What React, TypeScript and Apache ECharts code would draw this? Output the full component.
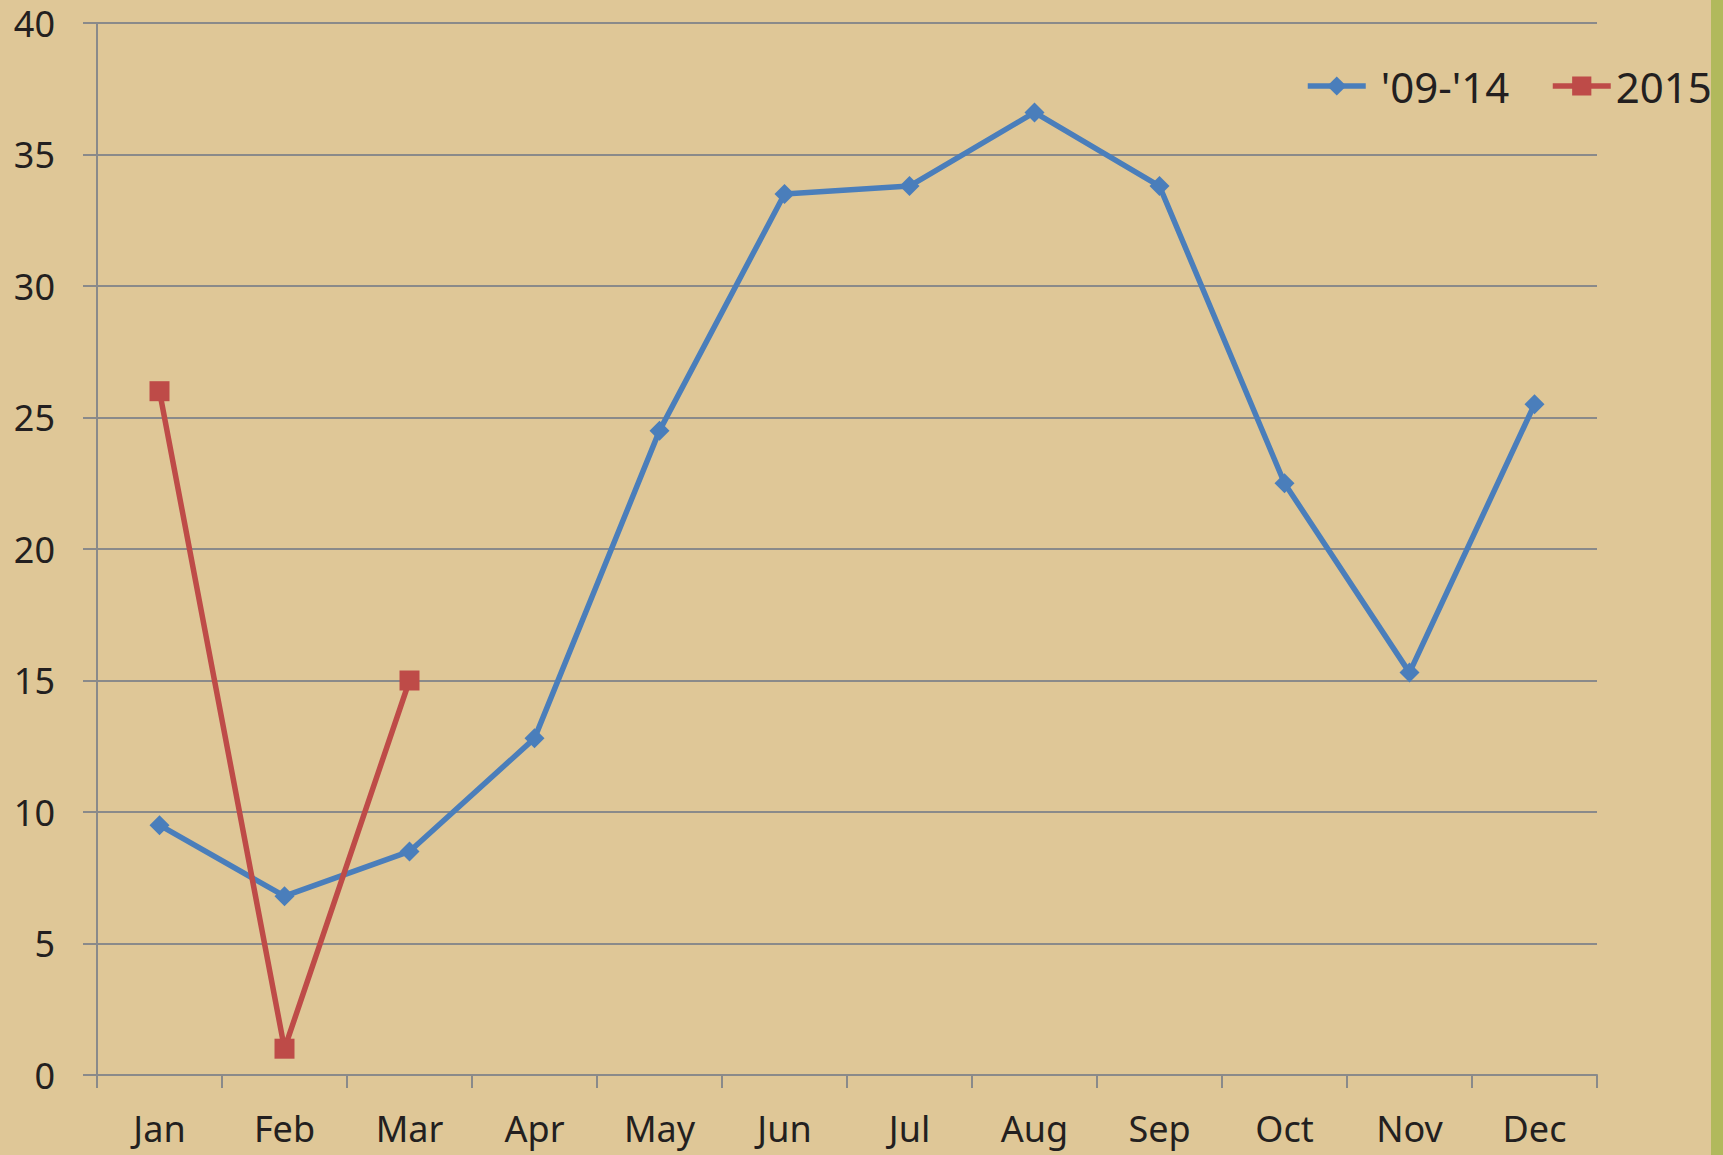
import React, { useEffect, useRef } from "react";
import * as echarts from "echarts";

const months = ["Jan", "Feb", "Mar", "Apr", "May", "Jun", "Jul", "Aug", "Sep", "Oct", "Nov", "Dec"];
const avg0914 = [9.5, 6.8, 8.5, 12.8, 24.5, 33.5, 33.8, 36.6, 33.8, 22.5, 15.3, 25.5];
const y2015 = [26, 1, 15, null, null, null, null, null, null, null, null, null];
const seriesNames = ["'09-'14", "2015"];

const FONT = "'Noto Sans', 'Open Sans', sans-serif";
const GRID = "#8a8a8a";
const TEXT = "#231f20";

export default function App() {
  const ref = useRef<HTMLDivElement>(null);
  useEffect(() => {
    document.body.style.margin = "0";
    const chart = echarts.init(ref.current!, null, { renderer: "svg" });
    const legendCommon = {
      top: 60,
      orient: "horizontal",
      itemWidth: 58,
      itemHeight: 24,
      lineStyle: { width: 5.5 },
    };
    chart.setOption({
      animation: false,
      backgroundColor: "#dfc797",
      grid: { left: 97, right: 126, top: 23, bottom: 80, containLabel: false },
      graphic: [
        { type: "rect", shape: { x: 1711, y: 0, width: 12, height: 1155 }, style: { fill: "#b1b95c" } },
      ],
      legend: [
        {
          ...legendCommon,
          left: 1300,
          data: [seriesNames[0]],
          textStyle: { fontFamily: FONT, fontSize: 42, color: TEXT, padding: [0, 0, 0, 10] },
        },
        {
          ...legendCommon,
          left: 1545,
          data: [seriesNames[1]],
          textStyle: { fontFamily: FONT, fontSize: 42, color: TEXT, padding: [0, 0, 0, 0] },
        },
      ],
      xAxis: {
        type: "category",
        data: months,
        boundaryGap: true,
        axisLine: { lineStyle: { color: GRID, width: 2 } },
        axisTick: { show: true, length: 13, interval: 0, lineStyle: { color: GRID, width: 2 } },
        axisLabel: { fontFamily: FONT, fontSize: 36, color: TEXT, margin: 35, interval: 0 },
      },
      yAxis: {
        type: "value",
        min: 0,
        max: 40,
        interval: 5,
        axisLine: { show: true, lineStyle: { color: GRID, width: 2 } },
        axisTick: { show: true, length: 14, lineStyle: { color: GRID, width: 2 } },
        splitLine: { show: true, lineStyle: { color: GRID, width: 2 } },
        axisLabel: { fontFamily: FONT, fontSize: 36, lineHeight: 36, color: TEXT, margin: 42 },
      },
      series: [
        {
          name: seriesNames[0],
          type: "line",
          data: avg0914,
          symbol: "diamond",
          symbolSize: 20,
          itemStyle: { color: "#4a7ebb" },
          lineStyle: { color: "#4a7ebb", width: 5.5 },
        },
        {
          name: seriesNames[1],
          type: "line",
          data: y2015,
          symbol: "rect",
          symbolSize: 20,
          itemStyle: { color: "#be4b48" },
          lineStyle: { color: "#be4b48", width: 5.5 },
        },
      ],
    });
    return () => chart.dispose();
  }, []);
  return <div ref={ref} style={{ width: 1723, height: 1155 }} />;
}
